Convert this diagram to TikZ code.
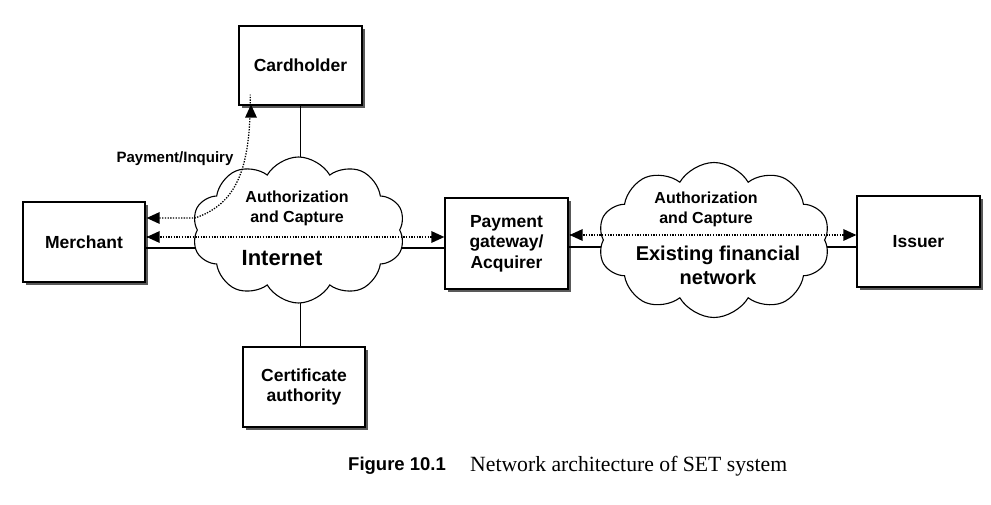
\documentclass[tikz,border=0pt]{standalone}
\usepackage{fontspec}
\setmainfont{Liberation Sans}
\newfontfamily\capserif{Liberation Serif}
\usetikzlibrary{shapes.symbols,shadows,calc}
\begin{document}
\begin{tikzpicture}[x=1pt,y=-1pt,
  box/.style={draw,line width=1.4pt,fill=white,align=center,
    font=\fontsize{17.5}{20.5}\selectfont\bfseries,
    drop shadow={shadow xshift=3pt,shadow yshift=-3pt,fill=black!65,opacity=1}},
  solidline/.style={line width=1.3pt},
  dotline/.style={line width=1.3pt,dash pattern=on 1.3pt off 1.4pt},
  tipfill/.style={fill=black},
  cloudshape/.style={cloud,draw,line width=1.1pt,fill=white,cloud puffs=10,
    cloud puff arc=120,cloud ignores aspect,inner sep=0pt},
  lab/.style={font=\fontsize{16}{20}\selectfont\bfseries,align=center,inner sep=0pt}
]
\useasboundingbox (0,0) rectangle (991,505);
% boxes
\node[box,minimum width=123pt,minimum height=79pt] (card) at (300.5,65.5) {Cardholder};
\node[box,minimum width=122pt,minimum height=80pt] (merch) at (84,242) {Merchant};
\node[box,minimum width=122pt,minimum height=80pt] (ca) at (304,387) {Certificate\\authority};
\node[box,minimum width=123pt,minimum height=91pt] (pg) at (506.5,243.5) {Payment\\gateway/\\Acquirer};
\node[box,minimum width=123pt,minimum height=91pt] (iss) at (918.5,241.5) {Issuer};
% solid connectors
\coordinate (ms) at ([yshift=-6pt]merch.east);
\draw[solidline] (ms) -- (ms -| pg.west);
\draw[solidline] (card.south) -- (card.south |- ca.north);
\coordinate (ps) at ([yshift=-3.5pt]pg.east);
\draw[solidline] (ps) -- (ps -| iss.west);
% clouds
\node[cloudshape,minimum width=213pt,minimum height=146pt] (inet) at (298.5,230) {};
\node[cloudshape,minimum width=232pt,minimum height=155pt] (fin) at (714,240) {};
% dotted connectors
\coordinate (md) at ([xshift=1pt,yshift=5pt]merch.east);
\coordinate (mdp) at (md -| pg.west);
\draw[dotline] (md) -- (mdp);
\fill[tipfill] (md) -- ++(13,-6) -- ++(0,12) -- cycle;
\fill[tipfill] (mdp) -- ++(-13,-6) -- ++(0,12) -- cycle;
\coordinate (pd) at ([xshift=1pt,yshift=8.5pt]pg.east);
\coordinate (pdi) at (pd -| iss.west);
\draw[dotline] (pd) -- (pdi);
\fill[tipfill] (pd) -- ++(13,-6) -- ++(0,12) -- cycle;
\fill[tipfill] (pdi) -- ++(-13,-6) -- ++(0,12) -- cycle;
\coordinate (pq1) at ([xshift=1pt,yshift=24pt]merch.east);
\coordinate (pq2) at ([xshift=-49.5pt,yshift=1pt]card.south);
\draw[dotline] ([xshift=10pt]pq1) -- (195,218)
  .. controls (236,204) and (251,170) .. ([xshift=-0.8pt,yshift=10pt]pq2);
\fill[tipfill] (pq1) -- ++(13,-6) -- ++(0,12) -- cycle;
\fill[tipfill] (pq2) -- ++(-6,13) -- ++(12,0) -- cycle;
% labels
\node[lab,font=\fontsize{15}{18}\selectfont\bfseries] (pinq) at (175,159) {Payment/Inquiry};
\node[lab] (ac1) at (297,208) {Authorization\\and Capture};
\node[lab,font=\fontsize{22}{26}\selectfont\bfseries] (inetl) at (282,258) {Internet};
\node[lab] (ac2) at (706,209.5) {Authorization\\and Capture};
\node[lab,font=\fontsize{20}{24}\selectfont\bfseries] (finl) at (718,265) {Existing financial\\network};
% caption
\node[anchor=west,inner sep=0pt,font=\fontsize{18.5}{22}\selectfont\bfseries] (fig) at (348,466) {Figure 10.1};
\node[anchor=west,inner sep=0pt,font=\capserif\fontsize{21.7}{25}\selectfont] (capt) at (470,466) {Network architecture of SET system};
\end{tikzpicture}
\end{document}
